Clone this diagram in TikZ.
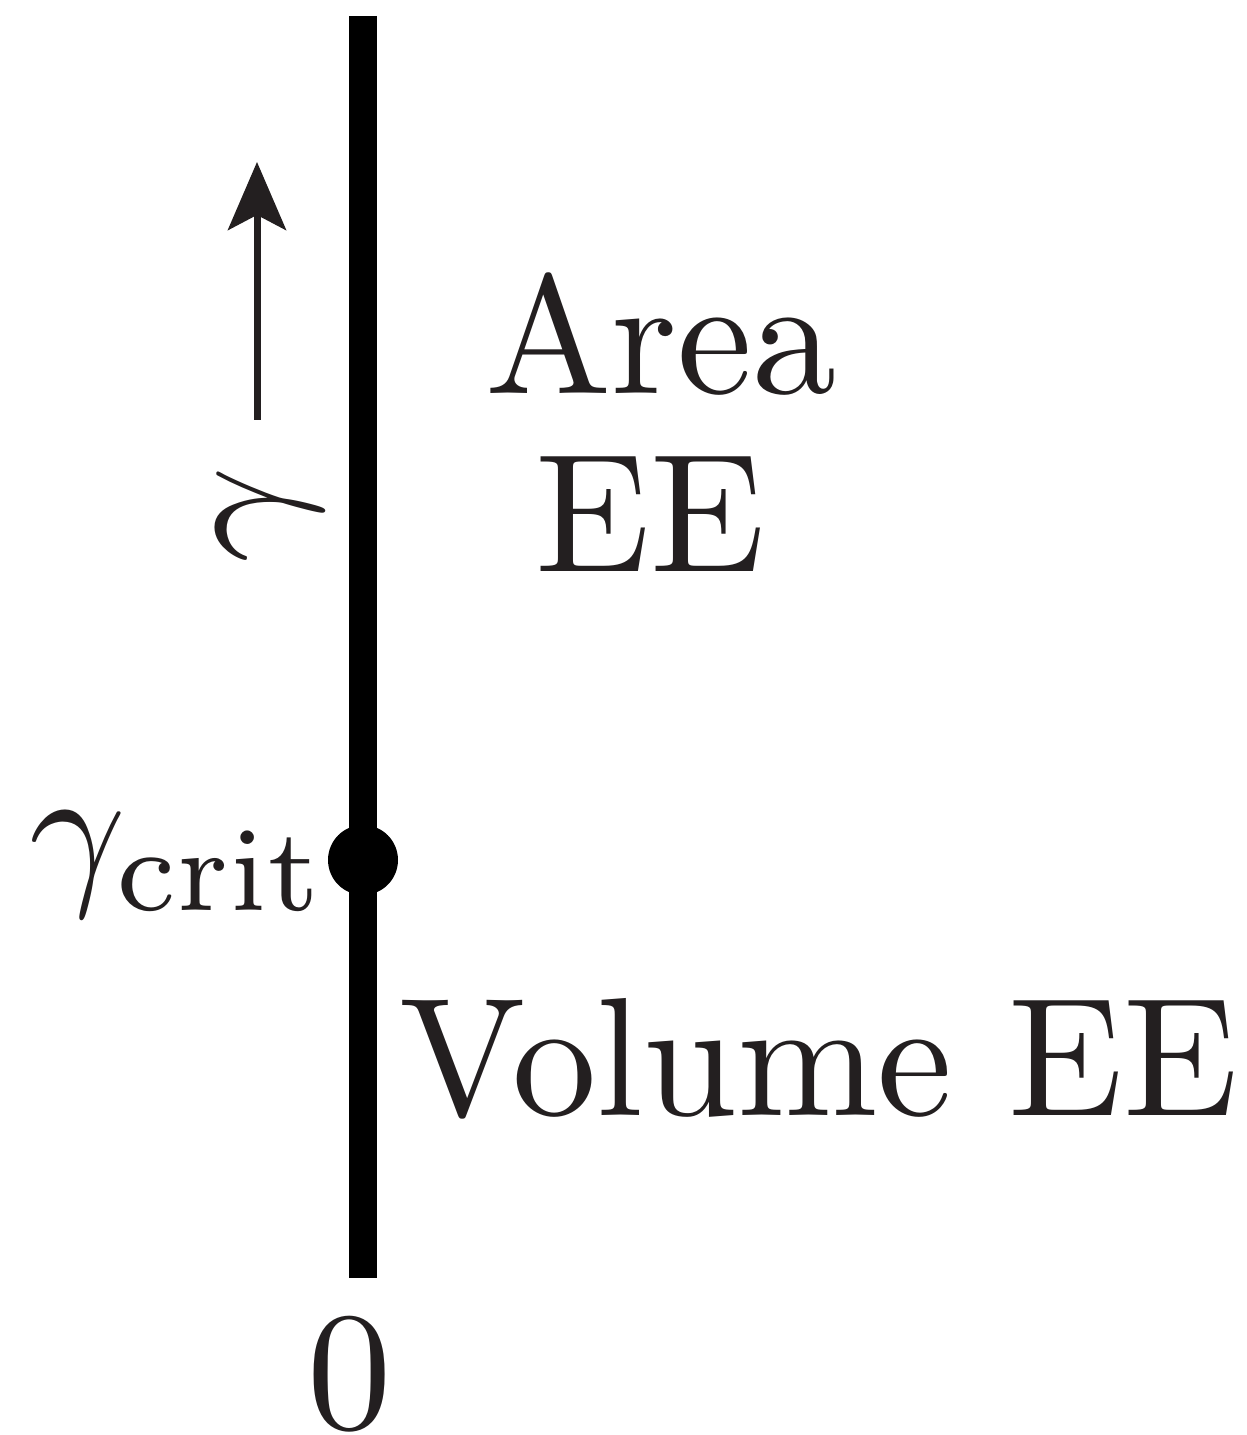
\documentclass[tikz,border=0pt]{standalone}
\usetikzlibrary{arrows.meta}
\definecolor{ink}{RGB}{35,31,32}
\begin{document}
\begin{tikzpicture}[x=1cm,y=1cm,txt/.style={scale=4.8,inner sep=0pt,text=ink}]
                \useasboundingbox (0,0) rectangle (12.46,14.35);
                % the gamma axis
                \coordinate (axtop) at (3.63,14.19);
                \coordinate (axbot) at (3.63,1.57);
                \draw[line width=0.28cm] (axtop) -- (axbot);
                \node[circle,fill=black,inner sep=0pt,minimum size=0.70cm] (crit) at (3.63,5.75) {};
                \node[txt,anchor=base east] (gcrit) at (3.32,5.50) {$\gamma_{\mathrm{crit}}$};
                \node[txt,anchor=base] (zero) at (3.495,0.07) {$0$};
                % direction of growing gamma
                \coordinate (gtail) at (2.57,10.15);
                \coordinate (ghead) at (2.57,12.73);
                \draw[ink,line width=0.07cm,-{Stealth[length=0.68cm,width=0.58cm,inset=0.15cm]}] (gtail) -- (ghead);
                \node[txt,rotate=90] (gam) at (2.70,9.20) {$\gamma$};
                % the two regimes
                \node[txt,anchor=base] (area) at (6.61,10.41) {Area};
                \node[txt,anchor=base] (areaee) at (6.50,8.63) {EE};
                \node[txt,anchor=base] (vol) at (8.19,3.19) {Volume EE};
            \end{tikzpicture}
\end{document}
